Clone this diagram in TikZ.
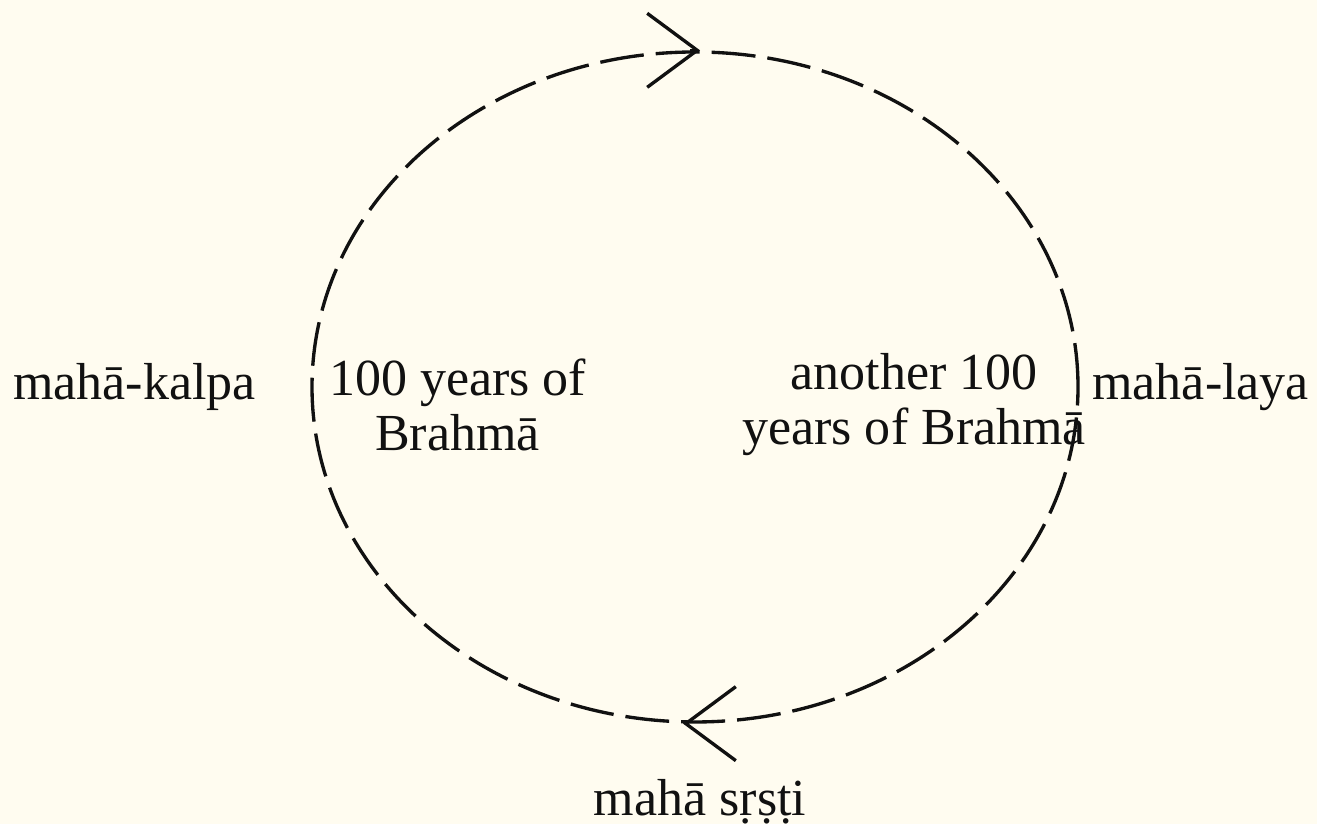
\documentclass[tikz,border=0pt]{standalone}
\usepackage{fontspec}
\setmainfont{Liberation Serif}
\usepackage{tikz}
\usetikzlibrary{arrows.meta,positioning,shapes.geometric}
\definecolor{paper}{HTML}{FFFCF0}
\definecolor{inkblack}{HTML}{111111}
\tikzset{
  cyclering/.style={ellipse,draw=inkblack,line width=0.95pt,dash pattern=on 0.44cm off 0.12cm,minimum width=7.66cm,minimum height=6.7cm,inner sep=0pt},
  barb/.style={-{Straight Barb[length=5mm,width=7.4mm]},line width=0.95pt,inkblack,solid},
  label/.style={inner sep=0pt,align=center,text=inkblack,font=\fontsize{14.8}{15.6}\selectfont}
}

\begin{document}
\begin{tikzpicture}
  \fill[paper] (0,0) rectangle (13.17,8.24);
  \useasboundingbox (0,0) rectangle (13.17,8.24);
  \node[cyclering] (cycle) at (6.95,4.37) {};
  \draw[barb] ([xshift=-0.05cm]cycle.north) -- ([xshift=0.05cm]cycle.north);
  \draw[barb] ([xshift=-0.07cm]cycle.south) -- ([xshift=-0.12cm]cycle.south);
  \node[label,left=0.54cm of cycle.west] (kalpa) {mahā-kalpa};
  \node[label,right=0.12cm of cycle.east] (laya) {mahā-laya};
  \node[label,right=0.18cm of cycle.west,yshift=-0.18cm] (first) {100 years of\\Brahmā};
  \node[label,left=-0.07cm of cycle.east,yshift=-0.18cm] (second) {another 100\\years of Brahmā};
  \node[label,below=0.55cm of cycle.south,xshift=0.05cm] (srsti) {mahā sṛṣṭi};
\end{tikzpicture}
\end{document}
